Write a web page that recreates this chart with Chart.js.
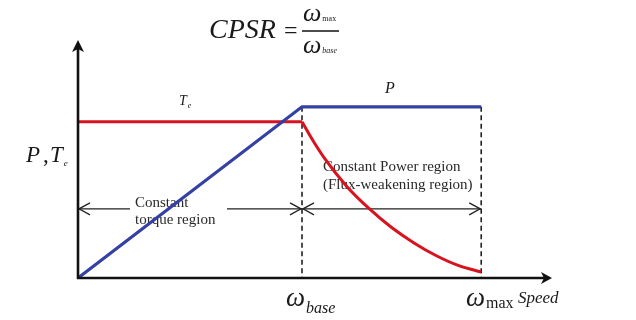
<!DOCTYPE html>
<html>
<head>
<meta charset="utf-8">
<script src="https://cdn.jsdelivr.net/npm/chart.js@4/dist/chart.umd.min.js"></script>
<style>
  html, body { margin: 0; padding: 0; background: #fff; }
  #wrap { width: 636px; height: 320px; }
</style>
</head>
<body>
<div id="wrap"><canvas id="cpsr" width="636" height="320"></canvas></div>
<script>
// speed in units of omega_base, values normalised to rated power
var powerSpeed = [0, 1, 1.8];
var powerValues = [0, 1, 1];
var torqueFlatSpeed = [0, 1];
var torqueFlatValues = [0.912, 0.912];
var torqueCurveSpeed = [1, 1.05, 1.1, 1.2, 1.3, 1.4, 1.5, 1.6, 1.7, 1.8];
var torqueCurveValues = [0.912, 0.80, 0.70, 0.535, 0.405, 0.295, 0.205, 0.13, 0.072, 0.035];
var speedMarks = [1, 1.8];
var regionLevel = 0.404;
var axisMaxX = 2.116;
var axisMaxY = 1.39;

var SERIF = '"Liberation Serif", "DejaVu Serif", serif';
var RED = '#d8121e';
var BLUE = '#3441a3';

function toPoints(xs, ys) {
    var pts = [];
    for (var i = 0; i < xs.length; i++) {
        pts.push({x: xs[i], y: ys[i]});
    }
    return pts;
}

function arrowHead(ctx, x, y, dir, filled) {
    // dir: 'left' | 'right' | 'up'
    ctx.beginPath();
    if (dir === 'right') {
        ctx.moveTo(x - 11, y - 6); ctx.lineTo(x, y); ctx.lineTo(x - 11, y + 6);
    } else if (dir === 'left') {
        ctx.moveTo(x + 11, y - 6); ctx.lineTo(x, y); ctx.lineTo(x + 11, y + 6);
    } else {
        ctx.moveTo(x - 6, y + 12); ctx.lineTo(x, y); ctx.lineTo(x + 6, y + 12);
    }
    if (filled) {
        ctx.lineTo(dir === 'up' ? x : (dir === 'right' ? x - 8 : x + 8), dir === 'up' ? y + 9 : y);
        ctx.closePath();
        ctx.fill();
    } else {
        ctx.stroke();
    }
}

// text with a subscript, returns end x
function subText(ctx, x, y, main, sub, mainFont, subFont, dy) {
    ctx.font = mainFont;
    ctx.fillText(main, x, y);
    var w = ctx.measureText(main).width;
    ctx.font = subFont;
    ctx.fillText(sub, x + w + 1, y + dy);
    return x + w + 1 + ctx.measureText(sub).width;
}

var diagramPlugin = {
    id: 'diagram',
    beforeDatasetsDraw: function (chart) {
        var ctx = chart.ctx;
        var xs = chart.scales.x, ys = chart.scales.y;
        var x0 = xs.getPixelForValue(0), y0 = ys.getPixelForValue(0);
        var xb = xs.getPixelForValue(speedMarks[0]);
        var xm = xs.getPixelForValue(speedMarks[1]);
        var yTop = ys.getPixelForValue(1);
        var yr = ys.getPixelForValue(regionLevel);

        ctx.save();
        // dashed speed markers
        ctx.strokeStyle = '#222';
        ctx.lineWidth = 1.6;
        ctx.setLineDash([5, 3.5]);
        ctx.beginPath();
        ctx.moveTo(xb, yTop); ctx.lineTo(xb, y0);
        ctx.moveTo(xm, yTop); ctx.lineTo(xm, y0);
        ctx.stroke();
        ctx.setLineDash([]);

        // region arrows
        ctx.lineWidth = 1.3;
        ctx.beginPath();
        ctx.moveTo(x0, yr); ctx.lineTo(130, yr);
        ctx.moveTo(227, yr); ctx.lineTo(xb, yr);
        ctx.moveTo(xb, yr); ctx.lineTo(xm, yr);
        ctx.stroke();
        arrowHead(ctx, x0 + 1, yr, 'left', false);
        arrowHead(ctx, xb - 1, yr, 'right', false);
        arrowHead(ctx, xb + 1, yr, 'left', false);
        arrowHead(ctx, xm - 1, yr, 'right', false);

        // region labels
        ctx.fillStyle = '#2a2a2a';
        ctx.textBaseline = 'alphabetic';
        ctx.textAlign = 'left';
        ctx.font = '15px ' + SERIF;
        ctx.fillText('Constant', 135, 207);
        ctx.fillText('torque region', 135, 224);
        ctx.fillText('Constant Power region', 323, 171);
        ctx.fillText('(Flux-weakening region)', 323, 189);
        ctx.restore();
    },
    afterDraw: function (chart) {
        var ctx = chart.ctx;
        var xs = chart.scales.x, ys = chart.scales.y;
        var x0 = xs.getPixelForValue(0), y0 = ys.getPixelForValue(0);
        var xEnd = xs.getPixelForValue(axisMaxX);
        var yEnd = ys.getPixelForValue(axisMaxY);

        ctx.save();
        // axes
        ctx.strokeStyle = '#111';
        ctx.fillStyle = '#111';
        ctx.lineWidth = 2.6;
        ctx.beginPath();
        ctx.moveTo(x0, y0 + 1); ctx.lineTo(x0, yEnd + 6);
        ctx.moveTo(x0 - 1, y0); ctx.lineTo(xEnd - 6, y0);
        ctx.stroke();
        ctx.lineWidth = 1;
        arrowHead(ctx, x0, yEnd, 'up', true);
        arrowHead(ctx, xEnd, y0, 'right', true);

        ctx.fillStyle = '#1a1a1a';
        ctx.textAlign = 'left';
        ctx.textBaseline = 'alphabetic';

        // curve labels
        subText(ctx, 179, 105, 'T', 'e', 'italic 14px ' + SERIF, 'italic 8px ' + SERIF, 3);
        ctx.font = 'italic 16px ' + SERIF;
        ctx.fillText('P', 385, 93);

        // y axis label
        ctx.font = 'italic 23px ' + SERIF;
        ctx.fillText('P', 26, 162);
        ctx.font = '23px ' + SERIF;
        ctx.fillText(',', 43, 162);
        subText(ctx, 50, 162, 'T', 'e', 'italic 23px ' + SERIF, 'italic 9px ' + SERIF, 4);

        // speed labels
        subText(ctx, 286, 306, '\u03c9', 'base', 'italic 27px ' + SERIF, 'italic 16px ' + SERIF, 7);
        subText(ctx, 466, 306, '\u03c9', 'max', 'italic 27px ' + SERIF, '16px ' + SERIF, 2);
        ctx.font = 'italic 17px ' + SERIF;
        ctx.fillText('Speed', 518, 303);

        // CPSR formula
        ctx.font = 'italic 28px ' + SERIF;
        ctx.fillText('CPSR', 209, 38);
        ctx.font = '24px ' + SERIF;
        ctx.fillText('=', 284, 38);
        ctx.lineWidth = 1.3;
        ctx.strokeStyle = '#111';
        ctx.beginPath();
        ctx.moveTo(302, 31); ctx.lineTo(339, 31);
        ctx.stroke();
        subText(ctx, 303, 21, '\u03c9', 'max', 'italic 26px ' + SERIF, '8px ' + SERIF, 0);
        subText(ctx, 303, 53, '\u03c9', 'base', 'italic 26px ' + SERIF, 'italic 8px ' + SERIF, 0);
        ctx.restore();
    }
};

var datasets = [
    {
        label: 'P',
        data: toPoints(powerSpeed, powerValues),
        borderColor: BLUE,
        borderWidth: 3.2,
        pointRadius: 0,
        tension: 0
    },
    {
        label: 'Te',
        data: toPoints(torqueFlatSpeed, torqueFlatValues),
        borderColor: RED,
        borderWidth: 3,
        pointRadius: 0,
        tension: 0
    },
    {
        label: 'Te field weakening',
        data: toPoints(torqueCurveSpeed, torqueCurveValues),
        borderColor: RED,
        borderWidth: 3,
        pointRadius: 0,
        cubicInterpolationMode: 'monotone'
    }
];

var ctx = document.getElementById('cpsr').getContext('2d');
var chart = new Chart(ctx, {
    type: 'line',
    data: {datasets: datasets},
    options: {
        responsive: false,
        animation: false,
        layout: {padding: {left: 78, right: 84, top: 40, bottom: 42}},
        plugins: {legend: {display: false}, tooltip: {enabled: false}},
        scales: {
            x: {type: 'linear', min: 0, max: axisMaxX, display: false},
            y: {type: 'linear', min: 0, max: axisMaxY, display: false}
        }
    },
    plugins: [diagramPlugin]
});
</script>
</body>
</html>
